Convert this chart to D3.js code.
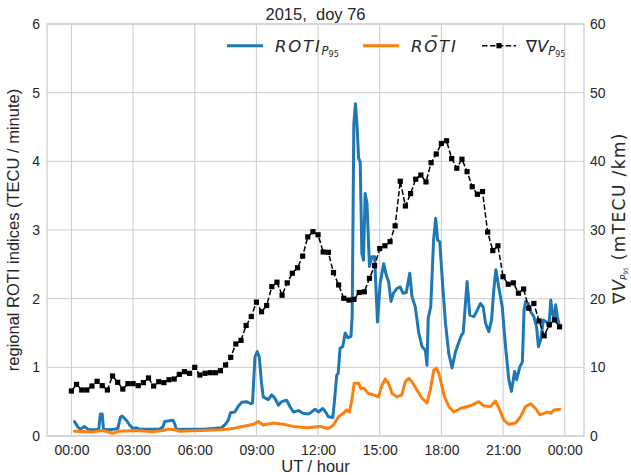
<!DOCTYPE html>
<html>
<head>
<meta charset="utf-8">
<script src="https://cdn.jsdelivr.net/npm/d3@7"></script>
<style>
  body { margin: 0; background: #fff; }
  text { font-family: "Liberation Sans", Arial, sans-serif; fill: #262626; }
  .math { font-family: "DejaVu Sans", sans-serif; }
</style>
</head>
<body>
<svg id="chart" width="631" height="475"></svg>
<script>
// ---- regional ROTI, 95th percentile (TECU/min), UT hours ----
const rotiP95Hours = [0.15,0.31,0.44,0.63,0.80,0.96,1.20,1.33,1.41,1.50,1.56,1.85,2.10,2.26,2.39,2.47,2.67,2.83,2.99,3.16,3.32,3.97,4.29,4.45,4.54,4.70,4.94,5.02,5.10,5.43,5.92,6.41,6.90,7.30,7.46,7.63,7.74,7.95,8.11,8.28,8.52,8.72,8.81,8.93,9.04,9.14,9.25,9.33,9.58,9.74,9.90,10.07,10.23,10.47,10.63,10.80,11.04,11.28,11.53,11.69,11.85,12.02,12.23,12.39,12.50,12.72,12.80,12.91,12.98,13.07,13.20,13.32,13.45,13.60,13.66,13.74,13.82,13.90,13.97,14.05,14.13,14.21,14.29,14.38,14.50,14.62,14.75,14.89,15.02,15.19,15.32,15.43,15.55,15.67,15.84,16.00,16.13,16.29,16.46,16.57,16.73,16.90,17.06,17.22,17.30,17.36,17.48,17.62,17.72,17.82,17.92,18.05,18.20,18.36,18.52,18.68,18.85,18.98,19.06,19.17,19.25,19.38,19.58,19.74,19.90,20.03,20.15,20.31,20.44,20.55,20.65,20.80,20.96,21.12,21.28,21.41,21.56,21.66,21.82,21.94,22.02,22.10,22.23,22.34,22.50,22.63,22.72,22.83,22.96,23.12,23.23,23.32,23.40,23.48,23.56,23.64,23.72];
const rotiP95 = [0.21,0.13,0.10,0.14,0.10,0.09,0.09,0.10,0.32,0.32,0.10,0.09,0.10,0.11,0.28,0.29,0.23,0.16,0.11,0.12,0.10,0.10,0.10,0.13,0.21,0.22,0.23,0.18,0.10,0.10,0.10,0.10,0.11,0.12,0.16,0.23,0.34,0.35,0.43,0.49,0.50,0.47,0.48,1.15,1.23,1.15,0.77,0.57,0.53,0.60,0.55,0.45,0.50,0.52,0.43,0.35,0.37,0.33,0.32,0.35,0.39,0.35,0.40,0.34,0.28,0.27,0.52,0.89,0.91,1.28,1.30,1.50,1.43,1.45,1.75,4.55,4.84,4.50,4.05,3.99,2.66,2.56,3.53,3.39,2.47,2.61,2.61,1.66,2.22,2.51,2.34,2.25,1.96,2.08,2.15,2.17,2.08,2.09,2.37,2.03,1.88,1.50,1.30,1.25,1.03,1.72,1.88,2.85,3.17,2.85,2.83,2.25,1.64,1.20,0.99,1.22,1.37,1.47,1.50,1.93,2.25,1.76,1.74,1.83,1.93,1.88,1.64,1.52,1.69,2.13,2.42,2.15,1.88,1.30,0.82,0.65,0.94,0.82,1.01,1.08,1.83,1.96,1.93,1.81,1.74,1.59,1.30,1.40,1.69,1.66,1.59,1.98,1.79,1.71,1.91,1.74,1.64];

// ---- regional mean ROTI (TECU/min) ----
const rotiMeanHours = [0.15,1.04,1.53,2.02,2.34,3.16,3.97,4.45,4.70,5.02,5.27,6.24,7.22,7.55,7.87,8.20,8.52,8.85,9.09,9.33,9.82,10.31,10.80,11.45,12.10,12.50,12.75,12.99,13.23,13.40,13.53,13.64,13.76,13.97,14.08,14.21,14.45,14.70,14.94,15.11,15.27,15.43,15.60,15.84,16.08,16.24,16.41,16.57,16.81,17.06,17.30,17.46,17.63,17.76,17.88,18.03,18.15,18.36,18.60,18.93,19.41,19.82,20.06,20.39,20.63,20.84,21.04,21.28,21.61,21.85,22.10,22.34,22.59,22.78,22.99,23.16,23.32,23.48,23.77];
const rotiMean = [0.07,0.06,0.08,0.04,0.07,0.08,0.06,0.08,0.10,0.09,0.07,0.08,0.09,0.10,0.11,0.13,0.15,0.17,0.21,0.16,0.19,0.17,0.14,0.12,0.14,0.11,0.16,0.28,0.33,0.38,0.35,0.52,0.77,0.77,0.69,0.70,0.62,0.60,0.57,0.74,0.83,0.77,0.62,0.57,0.60,0.79,0.84,0.79,0.67,0.55,0.48,0.67,0.96,0.99,0.91,0.72,0.57,0.43,0.35,0.40,0.44,0.50,0.44,0.43,0.51,0.38,0.23,0.17,0.19,0.28,0.43,0.47,0.40,0.31,0.33,0.35,0.33,0.38,0.39];

// ---- gradient index, 95th percentile (mTECU/km), every 15 minutes ----
const gradP95 = [6.55,7.52,6.70,6.70,7.28,7.96,7.33,6.70,8.74,7.82,6.84,7.62,7.62,7.33,7.77,8.45,7.28,7.91,7.77,8.20,8.30,8.98,9.37,9.13,10.0,8.88,9.13,9.22,9.22,9.51,10.34,11.46,13.40,13.93,16.10,17.40,19.50,18.10,19.00,21.75,22.40,20.50,22.30,23.70,24.50,26.20,29.00,29.75,29.30,26.80,26.75,23.80,22.00,20.05,19.80,19.90,20.90,21.00,22.96,24.80,27.30,27.70,28.30,30.60,37.10,33.50,35.30,37.40,38.00,37.00,39.80,41.07,42.60,43.00,40.40,39.00,40.30,38.50,36.30,35.20,35.60,29.70,27.00,27.70,23.20,22.10,22.30,20.80,21.40,18.60,19.30,16.75,14.60,16.20,16.90,15.90];
const gradHours = gradP95.map((_, i) => i * 0.25);

// ---- axis ticks ----
const hourTicks = [0, 3, 6, 9, 12, 15, 18, 21, 24];
const hourLabels = ["00:00","03:00","06:00","09:00","12:00","15:00","18:00","21:00","00:00"];
const rotiTicks = [0, 1, 2, 3, 4, 5, 6];
const gradTicks = [0, 10, 20, 30, 40, 50, 60];

const titleText = "2015,\u00a0\u00a0doy 76";

// ---- layout ----
const plot = { left: 47, right: 584, top: 24, bottom: 436 };
const BLUE = "#1f77b4", ORANGE = "#ff7f0e", GRID = "#cccccc";

const svg = d3.select("#chart");

const x = d3.scaleLinear().domain([-1.1875, 24.9375]).range([plot.left, plot.right]);
const yL = d3.scaleLinear().domain([0, 6]).range([plot.bottom, plot.top]);
const yR = d3.scaleLinear().domain([0, 60]).range([plot.bottom, plot.top]);

// grid
const grid = svg.append("g");
grid.selectAll("line.v").data(hourTicks).join("line")
  .attr("x1", d => x(d)).attr("x2", d => x(d))
  .attr("y1", plot.top).attr("y2", plot.bottom)
  .attr("stroke", GRID).attr("stroke-width", 1);
grid.selectAll("line.h").data(rotiTicks).join("line")
  .attr("y1", d => yL(d)).attr("y2", d => yL(d))
  .attr("x1", plot.left).attr("x2", plot.right)
  .attr("stroke", GRID).attr("stroke-width", 1);

// axes
const fmtHour = d => hourLabels[hourTicks.indexOf(d)];
const ax = svg.append("g").attr("transform", `translate(0,${plot.bottom})`)
  .call(d3.axisBottom(x).tickValues(hourTicks).tickFormat(fmtHour).tickSize(0).tickPadding(9));
const ayL = svg.append("g").attr("transform", `translate(${plot.left},0)`)
  .call(d3.axisLeft(yL).tickValues(rotiTicks).tickFormat(d3.format("d")).tickSize(0).tickPadding(7));
const ayR = svg.append("g").attr("transform", `translate(${plot.right},0)`)
  .call(d3.axisRight(yR).tickValues(gradTicks).tickFormat(d3.format("d")).tickSize(0).tickPadding(6));
[ax, ayL, ayR].forEach(g => {
  g.select(".domain").remove();
  g.selectAll("text").style("font-size", "14px").attr("fill", "#262626")
    .style("font-family", '"Liberation Sans", Arial, sans-serif');
});

// frame
svg.append("rect")
  .attr("x", plot.left).attr("y", plot.top)
  .attr("width", plot.right - plot.left).attr("height", plot.bottom - plot.top)
  .attr("fill", "none").attr("stroke", GRID).attr("stroke-width", 1.25);

// series
const lineL = (tt) => d3.line().x((d, i) => x(tt[i])).y(d => yL(d));
svg.append("path").datum(rotiP95)
  .attr("d", lineL(rotiP95Hours))
  .attr("fill", "none").attr("stroke", BLUE).attr("stroke-width", 3)
  .attr("stroke-linejoin", "round").attr("stroke-linecap", "round");
svg.append("path").datum(rotiMean)
  .attr("d", lineL(rotiMeanHours))
  .attr("fill", "none").attr("stroke", ORANGE).attr("stroke-width", 3)
  .attr("stroke-linejoin", "round").attr("stroke-linecap", "round");

const lineR = d3.line().x((d, i) => x(gradHours[i])).y(d => yR(d));
svg.append("path").datum(gradP95)
  .attr("d", lineR)
  .attr("fill", "none").attr("stroke", "#000").attr("stroke-width", 1.5)
  .attr("stroke-dasharray", "5.5,2.4");
svg.append("g").selectAll("rect").data(gradP95).join("rect")
  .attr("x", (d, i) => x(gradHours[i]) - 2.6).attr("y", d => yR(d) - 2.6)
  .attr("width", 5.2).attr("height", 5.2).attr("fill", "#000");

// title and axis labels
svg.append("text").attr("x", (plot.left + plot.right) / 2).attr("y", 19.5)
  .attr("text-anchor", "middle").style("font-size", "16.5px").text(titleText);
svg.append("text").attr("x", (plot.left + plot.right) / 2).attr("y", 472)
  .attr("text-anchor", "middle").style("font-size", "16.5px").text("UT / hour");
svg.append("text").attr("transform", `translate(18.5,${(plot.top + plot.bottom) / 2}) rotate(-90)`)
  .attr("text-anchor", "middle").style("font-size", "16.5px")
  .text("regional ROTI indices (TECU / minute)");

// right-hand label, set in the math font throughout
const rl = svg.append("text")
  .attr("transform", `translate(624.5,218) rotate(-90)`)
  .attr("class", "math")
  .attr("text-anchor", "middle").style("font-size", "17px");
rl.append("tspan").attr("class", "math").style("letter-spacing", "1px").text("\u2207");
rl.append("tspan").attr("class", "math").style("font-style", "italic").text("V");
rl.append("tspan").attr("class", "math").style("font-style", "italic").style("font-size", "8.5px").attr("dy", 2.5).text("P");
rl.append("tspan").attr("class", "math").style("font-size", "6px").attr("dy", 1.2).text("95");
rl.append("tspan").attr("class", "math").attr("dy", -3.7).style("letter-spacing", "1.4px").text(" (mTECU /km)");

// legend
const leg = svg.append("g");
const legY = 45.7, legBase = 51.7;
const mathText = (x0, parts) => {
  const t = leg.append("text").attr("x", x0).attr("y", legBase).attr("class", "math")
    .style("font-size", "16.5px");
  parts.forEach(p => {
    const s = t.append("tspan").attr("class", "math").text(p.text);
    if (p.italic) s.style("font-style", "italic");
    if (p.size) s.style("font-size", p.size + "px");
    if (p.dy) s.attr("dy", p.dy);
    if (p.ls) s.style("letter-spacing", p.ls + "px");
  });
  return t;
};
leg.append("line").attr("x1", 227).attr("x2", 263).attr("y1", legY).attr("y2", legY)
  .attr("stroke", BLUE).attr("stroke-width", 3);
mathText(275, [
  { text: "ROTI", italic: true, ls: 1.8 },
  { text: "P", italic: true, size: 11.5, dy: 3 },
  { text: "95", size: 8, dy: 2 }
]);
leg.append("line").attr("x1", 363).attr("x2", 399).attr("y1", legY).attr("y2", legY)
  .attr("stroke", ORANGE).attr("stroke-width", 3);
mathText(411, [{ text: "ROTI", italic: true, ls: 1.8 }]);
leg.append("line").attr("x1", 431.5).attr("x2", 437.5).attr("y1", 36).attr("y2", 36)
  .attr("stroke", "#262626").attr("stroke-width", 1.3);
leg.append("line").attr("x1", 482).attr("x2", 516).attr("y1", legY).attr("y2", legY)
  .attr("stroke", "#000").attr("stroke-width", 1.5).attr("stroke-dasharray", "5.5,2.4");
leg.append("rect").attr("x", 499 - 2.6).attr("y", legY - 2.6).attr("width", 5.2).attr("height", 5.2)
  .attr("fill", "#000");
mathText(526, [
  { text: "\u2207" },
  { text: "V", italic: true },
  { text: "P", italic: true, size: 11.5, dy: 3 },
  { text: "95", size: 8, dy: 2 }
]);
</script>
</body>
</html>
